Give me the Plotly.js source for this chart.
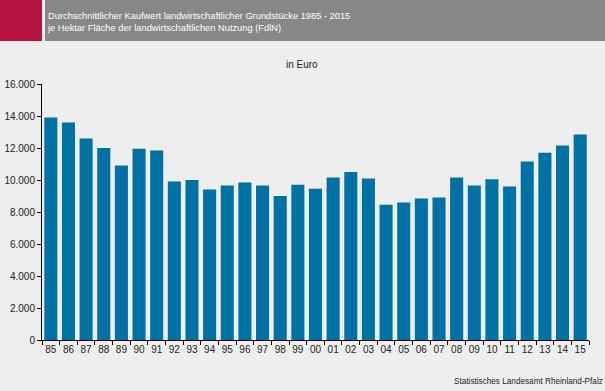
<!DOCTYPE html>
<html>
<head>
<meta charset="utf-8">
<script src="https://cdn.plot.ly/plotly-3.0.1.min.js"></script>
<style>
html,body{margin:0;padding:0;background:#eeeeee;}
#chart{width:605px;height:391px;}
</style>
</head>
<body>
<div id="chart"></div>
<script>
const years = ['85','86','87','88','89','90','91','92','93','94','95','96','97','98','99','00','01','02','03','04','05','06','07','08','09','10','11','12','13','14','15'];
const values = [13900,13600,12600,12000,10900,11950,11850,9900,10000,9400,9650,9850,9650,9000,9700,9450,10150,10500,10100,8450,8600,8850,8900,10150,9650,10050,9600,11150,11700,12150,12850];
const titleLine1 = 'Durchschnittlicher Kaufwert landwirtschaftlicher Grundstücke 1985 - 2015';
const titleLine2 = 'je Hektar Fläche der landwirtschaftlichen Nutzung (FdlN)';
const unitLabel = 'in Euro';
const sourceLabel = 'Statistisches Landesamt Rheinland-Pfalz';

const font = 'Liberation Sans, Arial, sans-serif';
const trace = {
  type: 'bar',
  x: years,
  y: values,
  marker: {color: '#0071a4'},
  width: 0.74,
  hoverinfo: 'x+y'
};
const layout = {
  width: 605, height: 391,
  margin: {l: 42, r: 16, t: 84, b: 51},
  paper_bgcolor: '#eeeeee',
  plot_bgcolor: '#eeeeee',
  separators: ',.',
  showlegend: false,
  font: {family: font, size: 10, color: '#222'},
  xaxis: {
    type: 'category',
    showline: true, linecolor: '#000', linewidth: 1,
    ticks: 'outside', ticklen: 4, tickcolor: '#000',
    tickson: 'boundaries',
    tickangle: 0,
    showgrid: false, zeroline: false,
    tickfont: {family: font, size: 10, color: '#222'}
  },
  yaxis: {
    range: [0, 16000],
    tickvals: [0,2000,4000,6000,8000,10000,12000,14000,16000],
    tickformat: ',d',
    showline: true, linecolor: '#000', linewidth: 1,
    ticks: 'outside', ticklen: 4, tickcolor: '#000',
    showgrid: false, zeroline: false,
    tickfont: {family: font, size: 10, color: '#222'}
  },
  shapes: [
    {type: 'rect', xref: 'paper', yref: 'paper', x0: -42/547, x1: 0, y0: (340-41)/256, y1: 340/256+0.01, fillcolor: '#b5123e', line: {width: 0}, layer: 'above'},
    {type: 'rect', xref: 'paper', yref: 'paper', x0: 3/547, x1: 563/547, y0: (340-41)/256, y1: 340/256+0.01, fillcolor: '#878787', line: {width: 0}, layer: 'above'}
  ],
  annotations: [
    {xref: 'paper', yref: 'paper', x: 3/547, y: (340-22)/256, xanchor: 'left', yanchor: 'middle', align: 'left',
     text: titleLine1 + '<br>' + titleLine2, showarrow: false,
     font: {family: font, size: 9.3, color: '#ffffff'}},
    {xref: 'paper', yref: 'paper', x: (302-42)/547, y: (340-64)/256, xanchor: 'center', yanchor: 'middle',
     text: unitLabel, showarrow: false, font: {family: font, size: 10, color: '#222'}},
    {xref: 'paper', yref: 'paper', x: (605-42)/547, y: (340-381)/256, xanchor: 'right', yanchor: 'middle',
     text: sourceLabel, showarrow: false, font: {family: font, size: 8.2, color: '#222'}}
  ]
};
Plotly.newPlot('chart', [trace], layout, {displayModeBar: false, staticPlot: true});
</script>
</body>
</html>
